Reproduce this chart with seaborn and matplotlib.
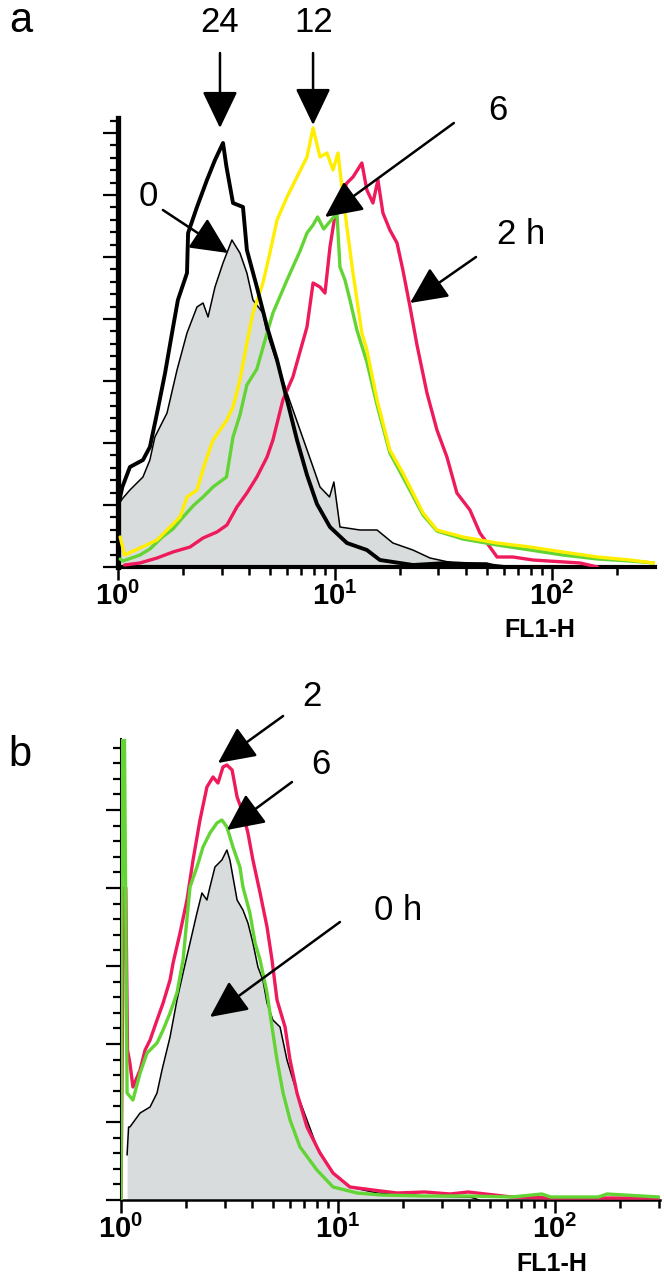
import numpy as np
import matplotlib
matplotlib.use("Agg")
import matplotlib.pyplot as plt
import seaborn as sns
from matplotlib.ticker import MultipleLocator, LogLocator, FixedLocator, FixedFormatter, NullFormatter

# ---------------- data (x = log10 FL1-H, y = cell counts, arbitrary units) ----------------
# Panel a
a_24h_log = [0.0, 0.02, 0.055, 0.115, 0.147, 0.18, 0.217, 0.249, 0.276, 0.318, 0.323, 0.364, 0.41, 0.447,
             0.484, 0.50, 0.53, 0.576, 0.594, 0.64, 0.687, 0.733, 0.779, 0.825, 0.871, 0.917, 0.977, 1.055,
             1.147, 1.207, 1.36, 1.516, 1.70, 1.78]
a_24h_cnt = [60, 80, 100, 107, 120, 154, 194, 234, 267, 294, 334, 360, 387, 407, 424, 400, 364, 360, 317,
             280, 240, 207, 167, 127, 92, 63, 40, 24, 17, 7, 2, 4, 2, 0]

a_0h_log = [0.0, 0.023, 0.055, 0.115, 0.147, 0.17, 0.226, 0.272, 0.318, 0.364, 0.392, 0.415, 0.447, 0.484,
            0.525, 0.562, 0.594, 0.622, 0.668, 0.687, 0.733, 0.779, 0.839, 0.899, 0.931, 0.975, 0.995, 1.023,
            1.115, 1.194, 1.267, 1.359, 1.438, 1.544, 1.70, 1.76]
a_0h_cnt = [62, 69, 77, 90, 107, 130, 154, 197, 234, 260, 264, 250, 280, 304, 327, 314, 294, 267, 254, 234,
            204, 174, 137, 100, 80, 70, 85, 40, 37, 37, 24, 17, 9, 4, 4, 0]

a_12h_log = [0.01, 0.03, 0.101, 0.18, 0.24, 0.286, 0.318, 0.364, 0.401, 0.438, 0.502, 0.53, 0.562, 0.594,
             0.622, 0.668, 0.70, 0.733, 0.779, 0.825, 0.871, 0.899, 0.931, 0.963, 0.991, 1.014, 1.032, 1.055,
             1.083, 1.124, 1.147, 1.194, 1.253, 1.313, 1.406, 1.47, 1.59, 1.747, 1.90, 2.05, 2.21, 2.36, 2.47]
a_12h_cnt = [30, 12, 19, 27, 40, 50, 70, 77, 104, 127, 147, 160, 187, 224, 254, 284, 314, 347, 370, 390,
             410, 439, 410, 414, 397, 414, 380, 340, 294, 234, 217, 167, 117, 94, 54, 37, 30, 24, 20, 15, 10,
             7, 4]

a_6h_log = [0.01, 0.023, 0.101, 0.147, 0.204, 0.253, 0.30, 0.35, 0.392, 0.438, 0.50, 0.53, 0.562, 0.594,
            0.64, 0.687, 0.714, 0.779, 0.839, 0.871, 0.899, 0.92, 0.948, 0.975, 0.995, 1.009, 1.023, 1.046,
            1.069, 1.101, 1.147, 1.194, 1.253, 1.313, 1.406, 1.47, 1.59, 1.747, 1.90, 2.05, 2.21, 2.36, 2.47]
a_6h_cnt = [8, 6, 12, 18, 30, 38, 50, 62, 70, 80, 90, 130, 152, 182, 198, 234, 254, 287, 316, 334, 342,
            350, 338, 345, 350, 354, 300, 287, 267, 237, 205, 162, 114, 90, 52, 36, 28, 22, 17, 12, 8, 6, 4]

a_2h_log = [0.03, 0.101, 0.18, 0.253, 0.332, 0.392, 0.456, 0.502, 0.548, 0.594, 0.64, 0.687, 0.714, 0.76,
            0.806, 0.871, 0.899, 0.931, 0.954, 0.977, 1.009, 1.055, 1.083, 1.124, 1.147, 1.175, 1.198, 1.221,
            1.253, 1.286, 1.313, 1.346, 1.378, 1.424, 1.47, 1.516, 1.562, 1.622, 1.668, 1.747, 1.82, 1.912,
            2.13, 2.21]
a_2h_cnt = [2, 4, 9, 15, 20, 29, 35, 42, 60, 74, 90, 110, 127, 167, 190, 240, 284, 280, 274, 320, 364, 384,
            390, 404, 377, 364, 387, 354, 337, 324, 297, 260, 222, 174, 137, 110, 74, 57, 34, 10, 10, 7, 4, 0]

# Panel b
b_0h_log = [0.028, 0.035, 0.041, 0.088, 0.134, 0.166, 0.189, 0.226, 0.258, 0.286, 0.318, 0.35, 0.373, 0.396,
            0.41, 0.433, 0.465, 0.488, 0.502, 0.516, 0.535, 0.562, 0.585, 0.608, 0.631, 0.654, 0.673, 0.70,
            0.733, 0.765, 0.811, 0.857, 0.903, 0.977, 1.055, 1.18, 1.40, 1.61, 1.65]
b_0h_cnt = [45, 73, 73, 87, 93, 107, 130, 163, 200, 227, 257, 287, 307, 300, 313, 333, 340, 350, 340, 323,
            300, 290, 277, 257, 233, 220, 197, 180, 173, 140, 107, 80, 53, 27, 13, 7, 4, 3, 0]

b_2h_log = [0.0, 0.012, 0.022, 0.03, 0.041, 0.055, 0.088, 0.111, 0.134, 0.166, 0.194, 0.226, 0.24, 0.272,
            0.304, 0.332, 0.364, 0.396, 0.424, 0.447, 0.47, 0.488, 0.512, 0.535, 0.562, 0.585, 0.608, 0.641,
            0.673, 0.696, 0.719, 0.756, 0.779, 0.811, 0.857, 0.917, 0.977, 1.055, 1.161, 1.272, 1.40, 1.516,
            1.60, 1.72, 1.80, 2.0, 2.2, 2.48]
b_2h_cnt = [0, 312, 312, 150, 137, 113, 130, 150, 160, 180, 197, 220, 237, 267, 300, 340, 380, 413, 423,
            417, 433, 435, 430, 403, 387, 367, 340, 307, 273, 240, 200, 173, 140, 107, 73, 47, 27, 13, 10, 7,
            8, 6, 8, 5, 3, 2, 2, 2]

b_6h_log = [0.0, 0.008, 0.014, 0.028, 0.055, 0.088, 0.12, 0.166, 0.194, 0.226, 0.258, 0.286, 0.318, 0.35,
            0.378, 0.41, 0.442, 0.465, 0.488, 0.516, 0.548, 0.562, 0.594, 0.618, 0.641, 0.673, 0.696, 0.719,
            0.747, 0.779, 0.825, 0.903, 0.977, 1.088, 1.2, 1.4, 1.6, 1.8, 1.94, 1.98, 2.1, 2.2, 2.24, 2.48]
b_6h_cnt = [0, 520, 520, 107, 100, 127, 147, 157, 170, 187, 207, 240, 313, 333, 353, 367, 377, 380, 373,
            353, 333, 313, 287, 257, 240, 207, 173, 140, 107, 80, 53, 30, 13, 7, 5, 4, 4, 3, 6, 3, 3, 3, 6, 3]

decade_ticks = [1, 10, 100]
decade_labels = [r"$\mathbf{10^{0}}$", r"$\mathbf{10^{1}}$", r"$\mathbf{10^{2}}$"]
axis_label = "FL1-H"

# ---------------- style ----------------
sns.set_style("ticks")
plt.rcParams["font.family"] = ["Liberation Sans", "DejaVu Sans"]
plt.rcParams["mathtext.fontset"] = "custom"
plt.rcParams["mathtext.rm"] = "Liberation Sans"
plt.rcParams["mathtext.bf"] = "Liberation Sans:bold"
plt.rcParams["text.color"] = "black"

YELLOW = "#FFEE00"
GREEN = "#62D433"
RED = "#EE1A5C"
GRAY = "#D9DCDC"

W, H = 664, 1280
fig = plt.figure(figsize=(W / 100, H / 100), dpi=100)
ax_a = fig.add_axes([118 / W, (H - 567) / H, (655 - 118) / W, (567 - 118) / H])
ax_b = fig.add_axes([121 / W, (H - 1200) / H, (660 - 121) / W, (1200 - 739) / H])


def fl(logs):
    return 10 ** np.asarray(logs, dtype=float)


def line(ax, logs, cnts, color, lw, z):
    sns.lineplot(x=fl(logs), y=cnts, ax=ax, color=color, lw=lw, estimator=None, sort=False,
                 zorder=z, legend=False)


# Panel a
ax_a.fill_between(fl(a_0h_log), a_0h_cnt, color=GRAY, lw=0, zorder=1)
line(ax_a, a_0h_log, a_0h_cnt, "black", 1.1, 2)
line(ax_a, a_2h_log, a_2h_cnt, RED, 2.4, 3)
line(ax_a, a_6h_log, a_6h_cnt, GREEN, 2.4, 4)
line(ax_a, a_12h_log, a_12h_cnt, YELLOW, 2.4, 5)
line(ax_a, a_24h_log, a_24h_cnt, "black", 2.8, 6)

# Panel b
ax_b.fill_between(fl(b_0h_log), b_0h_cnt, color=GRAY, lw=0, zorder=1)
line(ax_b, b_0h_log, b_0h_cnt, "black", 1.1, 2)
line(ax_b, b_2h_log, b_2h_cnt, RED, 2.4, 3)
line(ax_b, b_6h_log, b_6h_cnt, GREEN, 2.4, 4)

for ax, xmax, ymax, ymaj, ymin, lw_left, lw_bot in [
        (ax_a, 10 ** 2.475, 449, 62, 12.4, 3.8, 3.0),
        (ax_b, 10 ** 2.484, 461, 78, 15.6, 1.5, 1.8)]:
    ax.set_xscale("log")
    ax.set_xlim(1, xmax)
    ax.set_ylim(0, ymax)
    ax.set_xlabel("")
    ax.set_ylabel("")
    ax.xaxis.set_major_locator(FixedLocator(decade_ticks))
    ax.xaxis.set_major_formatter(FixedFormatter(decade_labels))
    ax.xaxis.set_minor_locator(LogLocator(base=10, subs=range(2, 10)))
    ax.xaxis.set_minor_formatter(NullFormatter())
    ax.yaxis.set_major_locator(MultipleLocator(ymaj))
    ax.yaxis.set_minor_locator(MultipleLocator(ymin))
    ax.tick_params(axis="x", which="major", direction="out", length=9, width=1.8, pad=2,
                   labelsize=21, colors="black")
    ax.tick_params(axis="x", which="minor", direction="out", length=6, width=1.8, bottom=True,
                   colors="black")
    ax.tick_params(axis="y", which="major", direction="out", length=11, width=1.6, left=True,
                   labelleft=False, colors="black")
    ax.tick_params(axis="y", which="minor", direction="out", length=6, width=1.6, left=True,
                   colors="black")
    for s in ("top", "right"):
        ax.spines[s].set_visible(False)
    ax.spines["left"].set_linewidth(lw_left)
    ax.spines["bottom"].set_linewidth(lw_bot)
    ax.spines["left"].set_color("black")
    ax.spines["bottom"].set_color("black")
    ax.set_facecolor("none")

ax_a.text(10 ** 1.945, -0.14, axis_label, transform=ax_a.get_xaxis_transform(), ha="center",
          va="center", fontsize=18, fontweight="bold", color="black")
ax_b.text(10 ** 1.986, -0.139, axis_label, transform=ax_b.get_xaxis_transform(), ha="center",
          va="center", fontsize=18, fontweight="bold", color="black")

AP = dict(arrowstyle="-|>,head_length=1.15,head_width=0.55", mutation_scale=20, lw=1.8,
          color="black", shrinkA=0, shrinkB=0)


def arrow(ax, tail, tip):
    ax.annotate("", xy=(10 ** tip[0], tip[1]), xytext=(10 ** tail[0], tail[1]),
                arrowprops=AP, annotation_clip=False, zorder=10)


def label(ax, pos, s):
    ax.text(10 ** pos[0], pos[1], s, ha="center", va="center", fontsize=25, clip_on=False,
            zorder=10, color="black")


# Panel a annotations (log10 x, counts)
label(ax_a, (0.470, 545), "24")
arrow(ax_a, (0.470, 514), (0.470, 439))
label(ax_a, (0.903, 545), "12")
arrow(ax_a, (0.899, 514), (0.899, 442))
label(ax_a, (1.751, 457), "6")
arrow(ax_a, (1.548, 444), (0.954, 350))
label(ax_a, (0.138, 370), "0")
arrow(ax_a, (0.207, 357), (0.507, 314))
label(ax_a, (1.857, 332), "2 h")
arrow(ax_a, (1.650, 310), (1.346, 264))

# Panel b annotations
label(ax_b, (0.880, 504), "2")
arrow(ax_b, (0.747, 484), (0.447, 437))
label(ax_b, (0.922, 436), "6")
arrow(ax_b, (0.788, 418), (0.488, 370))
label(ax_b, (1.276, 290), "0 h")
arrow(ax_b, (1.009, 278), (0.410, 183))

fig.text(21 / W, 1 - 21 / H, "a", fontsize=30, ha="center", va="center", color="black")
fig.text(20 / W, 1 - 755 / H, "b", fontsize=30, ha="center", va="center", color="black")

fig.savefig("out.png", dpi=100, facecolor="white")
